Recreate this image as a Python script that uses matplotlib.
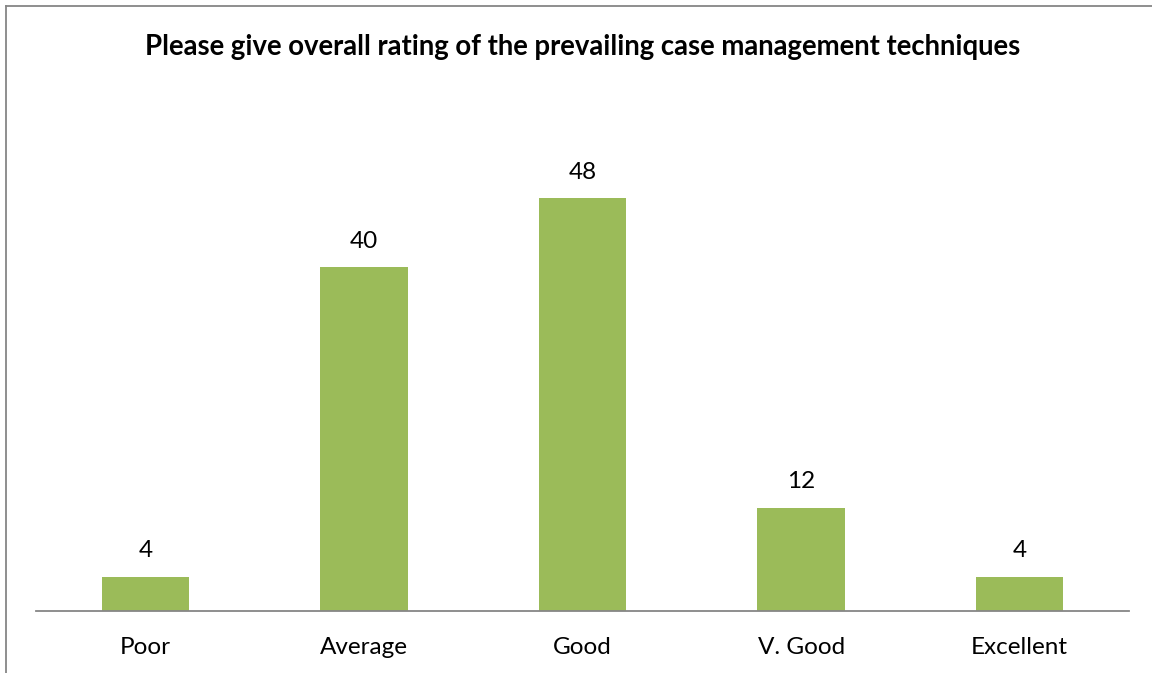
import matplotlib.pyplot as plt
from matplotlib.lines import Line2D

categories = ["Poor", "Average", "Good", "V. Good", "Excellent"]
values = [4, 40, 48, 12, 4]

plt.rcParams['font.family'] = ['Lato', 'DejaVu Sans']

W, H = 1152, 673
fig = plt.figure(figsize=(W / 100, H / 100), dpi=100)
ax = fig.add_axes([36 / W, (H - 611) / H, (1129 - 36) / W, (611 - 95) / H])

x = range(len(categories))
bars = ax.bar(x, values, width=0.4, color="#9bbb59")
for b, v in zip(bars, values):
    ax.annotate(str(v), (b.get_x() + b.get_width() / 2, v), xytext=(0, 26),
                textcoords="offset pixels", ha="center", va="center", fontsize=17.5)

ax.set_xlim(-0.5, len(categories) - 0.5)
ax.set_ylim(0, 60)
ax.set_xticks(list(x))
ax.set_xticklabels(categories, fontsize=17.5)
ax.tick_params(axis="x", length=0, pad=19)
ax.set_yticks([])
for s in ["top", "right", "left"]:
    ax.spines[s].set_visible(False)
ax.spines["bottom"].set_color("#868686")
ax.spines["bottom"].set_linewidth(1.3)

fig.text(583 / W, 1 - 47 / H, "Please give overall rating of the prevailing case management techniques",
         ha="center", va="center", fontsize=19.8, fontweight="bold")

# outer chart border (left and top edges visible)
fig.add_artist(Line2D([6 / W, 6 / W], [0, 1 - 6 / H], color="#868686", lw=1.3))
fig.add_artist(Line2D([6 / W, 1], [1 - 6 / H, 1 - 6 / H], color="#868686", lw=1.3))

fig.savefig("out.png", dpi=100)
